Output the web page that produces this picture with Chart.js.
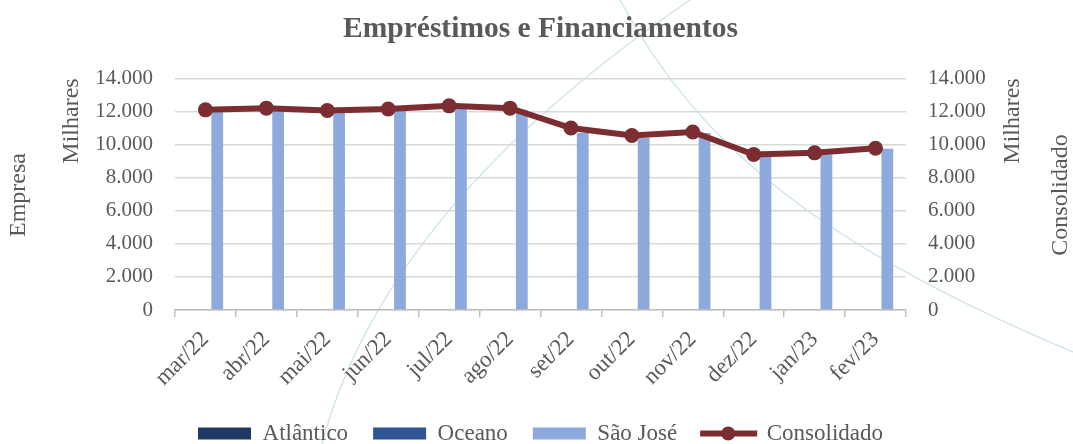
<!DOCTYPE html>
<html>
<head>
<meta charset="utf-8">
<style>
  html, body { margin: 0; padding: 0; background: #ffffff; }
  #wrap { width: 1073px; height: 444px; position: relative; }
</style>
<script src="https://cdn.jsdelivr.net/npm/chart.js@4/dist/chart.umd.min.js"></script>
</head>
<body>
<div id="wrap"><canvas id="c" width="1073" height="444"></canvas></div>
<script>
const categories = ['mar/22','abr/22','mai/22','jun/22','jul/22','ago/22','set/22','out/22','nov/22','dez/22','jan/23','fev/23'];
const atlantico = [0,0,0,0,0,0,0,0,0,0,0,0];
const oceano = [0,0,0,0,0,0,0,0,0,0,0,0];
const saoJose = [12000,12100,12000,12100,12200,12100,10700,10400,10700,9300,9400,9750];
const consolidado = [12100,12200,12060,12150,12340,12200,11000,10550,10760,9400,9500,9780];
const yTicks = [0,2000,4000,6000,8000,10000,12000,14000];

const FONT = "'Liberation Serif', 'Times New Roman', serif";
const TXT = '#595959';

function fmt(v){ return String(v).replace(/\B(?=(\d{3})+(?!\d))/g, '.'); }

const decorPlugin = {
  id: 'decor',
  beforeDraw(chart){
    const ctx = chart.ctx;
    ctx.save();
    ctx.strokeStyle = '#c9e2ea';
    ctx.lineWidth = 1.2;
    ctx.beginPath();
    ctx.moveTo(322, 444);
    ctx.bezierCurveTo(360, 300, 470, 150, 690, 0);
    ctx.stroke();
    ctx.beginPath();
    ctx.moveTo(620, 0);
    ctx.bezierCurveTo(700, 150, 830, 250, 1073, 352);
    ctx.stroke();
    ctx.restore();
  }
};

const textPlugin = {
  id: 'sideTexts',
  afterDraw(chart){
    const ctx = chart.ctx;
    ctx.save();
    ctx.fillStyle = TXT;
    ctx.font = "24px " + FONT;
    ctx.textAlign = 'center';
    ctx.textBaseline = 'middle';
    const rot = (t, x, y) => { ctx.save(); ctx.translate(x, y); ctx.rotate(-Math.PI/2); ctx.fillText(t, 0, 0); ctx.restore(); };
    rot('Empresa', 19, 195);
    rot('Milhares', 72, 121);
    rot('Milhares', 1013, 121);
    rot('Consolidado', 1061, 195);
    // Consolidado legend key: line with marker
    const lg = chart.legend;
    if (lg && lg.legendHitBoxes && lg.legendHitBoxes[3]) {
      const hb = lg.legendHitBoxes[3];
      const cy = hb.top + hb.height/2;
      ctx.strokeStyle = '#7c2d32';
      ctx.lineWidth = 6;
      ctx.beginPath();
      ctx.moveTo(hb.left - 2, cy);
      ctx.lineTo(hb.left + 55, cy);
      ctx.stroke();
      ctx.fillStyle = '#7c2d32';
      ctx.beginPath();
      ctx.arc(hb.left + 26, cy, 7, 0, Math.PI*2);
      ctx.fill();
    }
    ctx.restore();
  }
};

new Chart(document.getElementById('c'), {
  type: 'bar',
  data: {
    labels: categories,
    datasets: [
      { label: 'Atlântico', data: atlantico, backgroundColor: '#1f3864', yAxisID: 'y', order: 2 },
      { label: 'Oceano', data: oceano, backgroundColor: '#2f5597', yAxisID: 'y', order: 2 },
      { label: 'São José', data: saoJose, backgroundColor: '#8eaadc', yAxisID: 'y', order: 2 },
      { label: 'Consolidado', type: 'line', data: consolidado, yAxisID: 'y2', order: 1,
        borderColor: '#7c2d32', backgroundColor: '#7c2d32', borderWidth: 6,
        pointRadius: 7.5, pointHoverRadius: 7.5, pointBackgroundColor: '#7c2d32', pointBorderColor: '#7c2d32', pointBorderWidth: 0,
        tension: 0, fill: false }
    ]
  },
  options: {
    responsive: false,
    animation: false,
    devicePixelRatio: 1,
    layout: { padding: { top: 0, left: 8, right: 0, bottom: -11 } },
    datasets: { bar: { categoryPercentage: 0.58, barPercentage: 1.0 } },
    plugins: {
      tooltip: { enabled: false },
      title: {
        display: true,
        text: 'Empréstimos e Financiamentos',
        color: TXT,
        font: { family: FONT, size: 29.5, weight: 'bold' },
        padding: { top: 12, bottom: 31 }
      },
      legend: {
        position: 'bottom',
        labels: {
          color: TXT,
          font: { family: FONT, size: 23 },
          boxWidth: 53,
          boxHeight: 12,
          padding: 25,
          generateLabels(chart){
            return chart.data.datasets.map((ds, i) => ({
              text: ds.label,
              fillStyle: i === 3 ? 'rgba(0,0,0,0)' : ds.backgroundColor,
              strokeStyle: 'rgba(0,0,0,0)',
              lineWidth: 0,
              hidden: false,
              datasetIndex: i,
              fontColor: TXT
            }));
          }
        }
      }
    },
    scales: {
      x: {
        offset: true,
        grid: { display: true, drawOnChartArea: false, offset: true, color: '#bfbfbf', tickLength: 7, lineWidth: 1.5 },
        border: { display: true, color: '#bfbfbf', width: 1.5 },
        ticks: { color: TXT, font: { family: FONT, size: 23 }, maxRotation: 45, minRotation: 45, padding: 9, autoSkip: false },
        afterFit(s){ s.height = 87; }
      },
      y: {
        position: 'left',
        min: 0, max: 14000,
        afterBuildTicks(s){ s.ticks = yTicks.map(v => ({ value: v })); },
        grid: { color: '#d9d9d9', lineWidth: 1.5, drawTicks: false },
        border: { display: false },
        ticks: { color: TXT, font: { family: FONT, size: 21 }, padding: 22, callback: v => fmt(v) },
        afterFit(s){ s.width = 167; }
      },
      y2: {
        position: 'right',
        min: 0, max: 14000,
        afterBuildTicks(s){ s.ticks = yTicks.map(v => ({ value: v })); },
        grid: { display: false, drawTicks: false },
        border: { display: false },
        ticks: { color: TXT, font: { family: FONT, size: 21 }, padding: 22, callback: v => fmt(v) },
        afterFit(s){ s.width = 167; }
      }
    }
  },
  plugins: [decorPlugin, textPlugin]
});
</script>
</body>
</html>
